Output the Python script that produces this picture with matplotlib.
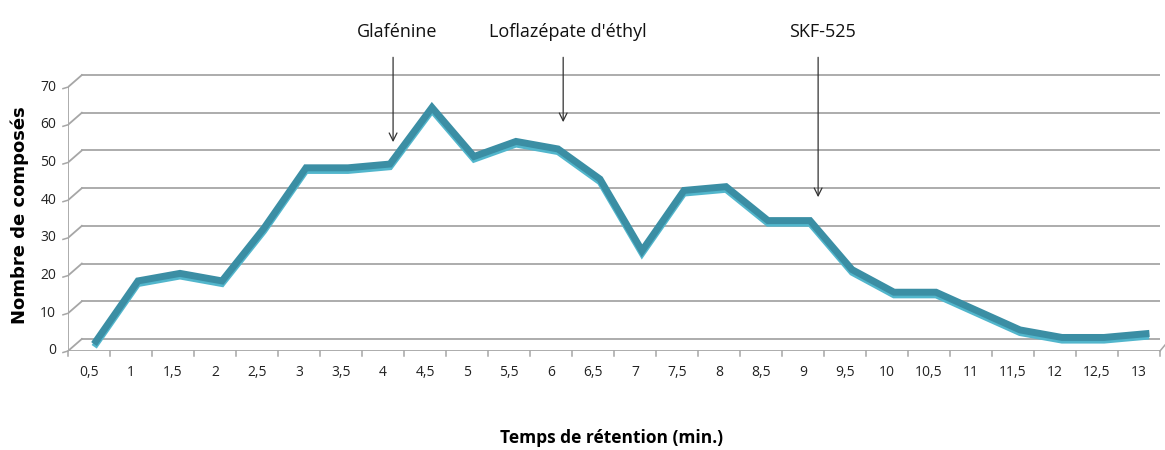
import matplotlib
matplotlib.use("Agg")
import matplotlib.pyplot as plt
from matplotlib.transforms import offset_copy
from matplotlib import font_manager

# retention time categories (min.) and number of compounds
temps = ["0,5", "1", "1,5", "2", "2,5", "3", "3,5", "4", "4,5", "5", "5,5", "6", "6,5",
         "7", "7,5", "8", "8,5", "9", "9,5", "10", "10,5", "11", "11,5", "12", "12,5", "13"]
nombre = [1, 17, 19, 17, 31, 47, 47, 48, 63, 50, 54, 52, 44,
          25, 41, 42, 33, 33, 20, 14, 14, 9, 4, 2, 2, 3]

# annotated compounds: label, position (category index), arrow tip value
composes = ["Glafénine", "Loflazépate d'éthyl", "SKF-525"]
comp_x = [7.24, 11.29, 17.36]
comp_tip = [55.4, 60.7, 40.8]

yticks = [0, 10, 20, 30, 40, 50, 60, 70]

names = {f.name for f in font_manager.fontManager.ttflist}
narrow = "Liberation Sans Narrow" if "Liberation Sans Narrow" in names else "Open Sans"

fig = plt.figure(figsize=(11.65, 4.5), dpi=100)
# axes in pixels: left 68, right 1160, bottom 351 (from top), top 60
ax = fig.add_axes([68 / 1165, 1 - 351 / 450, (1160 - 68) / 1165, (351 - 60) / 450])
n = len(temps)
ax.set_xlim(-0.5, n - 0.5)
ax.set_ylim(0, (351 - 60) / 3.77)
for s in ax.spines.values():
    s.set_visible(False)

grid_c = "#a6a6a6"
depth_x, depth_y = 0.33, 3.2  # back wall offset (in data units)
for v in yticks:
    # back gridline + small slanted connector to the front axis
    ax.plot([-0.5 + depth_x, n - 0.5], [v + depth_y, v + depth_y], color=grid_c, lw=1.3, zorder=1)
    ax.plot([-0.5, -0.5 + depth_x], [v, v + depth_y], color=grid_c, lw=1.3, zorder=1)
    ax.plot([-0.62, -0.5], [v - 0.4, v], color=grid_c, lw=1.1, zorder=1, clip_on=False)
# front axes
ax.plot([-0.5, -0.5], [0, 70], color=grid_c, lw=1.3, zorder=1)
ax.plot([-0.5, n - 0.5], [0, 0], color=grid_c, lw=1.3, zorder=1)
ax.plot([n - 0.5, n - 0.5 + 0.12], [0, 1.6], color=grid_c, lw=1.1, zorder=1, clip_on=False)
for i in range(n + 1):
    ax.plot([i - 0.5, i - 0.5], [0, -1.2], color=grid_c, lw=1.1, clip_on=False)

ax.set_xticks([])
ax.set_yticks([])
for v in yticks:
    ax.text(-0.78, v, str(v), ha="right", va="center", fontsize=10, family="Open Sans",
            color="#222222")
for i, t in enumerate(temps):
    ax.text(i, -5.8, t, ha="center", va="center", fontsize=10, family="Open Sans",
            color="#222222", clip_on=False)

# ribbon-like line (3D look), shifted as the series sits in the middle depth
xs = list(range(n))
tr_top = offset_copy(ax.transData, fig=fig, x=7, y=6, units="dots")
tr_low = offset_copy(ax.transData, fig=fig, x=7, y=3, units="dots")
ax.plot(xs, nombre, color="#52b6cc", lw=4.5, transform=tr_low, solid_joinstyle="miter", zorder=3)
ax.plot(xs, nombre, color="#3b8ea4", lw=5, transform=tr_top, solid_joinstyle="miter", zorder=4)

# arrows and compound names
for lab, x, tip in zip(composes, comp_x, comp_tip):
    ax.annotate("", xy=(x, tip), xytext=(x, 77.9), annotation_clip=False,
                arrowprops=dict(arrowstyle="->", color="#333333", lw=0.9,
                                mutation_scale=14, shrinkA=0, shrinkB=0))
    ax.text(x + 0.1, 84.5, lab, ha="center", va="center", fontsize=13, family=narrow,
            color="#111111", clip_on=False)

fig.text(20 / 1165, 1 - 215 / 450, "Nombre de composés", rotation=90, ha="center",
         va="center", fontsize=13, fontweight="bold", family="DejaVu Sans")
fig.text(612 / 1165, 1 - 438 / 450, "Temps de rétention (min.)", ha="center", va="center",
         fontsize=12.5, fontweight="bold", family=narrow)

fig.savefig("out.png", dpi=100)
